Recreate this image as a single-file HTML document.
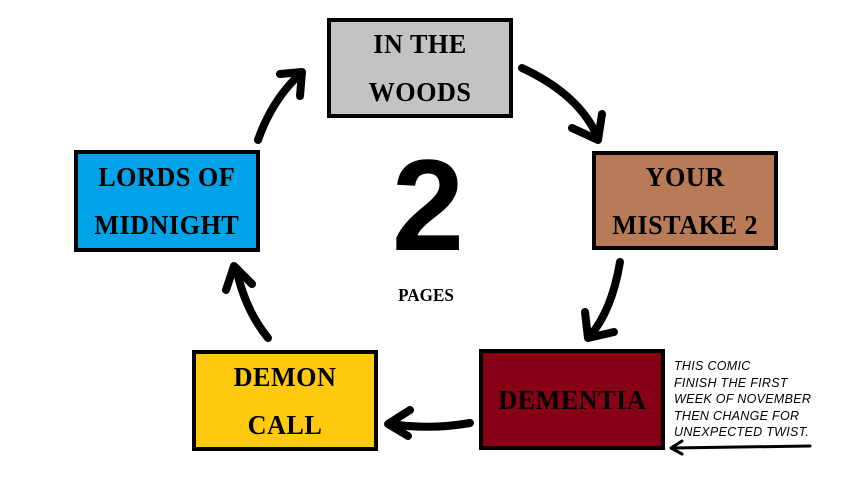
<!DOCTYPE html>
<html><head><style>
body{margin:0;width:856px;height:487px;background:#fff;position:relative;overflow:hidden;font-family:"Liberation Sans",sans-serif}
.b{position:absolute;border:4px solid #000;box-sizing:border-box;display:flex;align-items:center;justify-content:center;text-align:center;font-family:"Liberation Serif",serif;font-weight:900;font-size:27px;line-height:48px;letter-spacing:0.5px;color:#000}
.b span{display:inline-block;transform:scaleX(0.97)}
.note{position:absolute;left:674px;top:358px;font-style:italic;font-size:12.5px;line-height:16.5px;letter-spacing:0.3px;color:#000}
</style></head><body>
<div class="b" style="left:327px;top:18px;width:186px;height:100px;background:#c3c3c3"><span>IN THE<br>WOODS</span></div>
<div class="b" style="left:592px;top:151px;width:186px;height:99px;background:#b97a57"><span>YOUR<br>MISTAKE 2</span></div>
<div class="b" style="left:479px;top:349px;width:186px;height:101px;background:#880015"><span>DEMENTIA</span></div>
<div class="b" style="left:192px;top:350px;width:186px;height:101px;background:#ffc90e"><span>DEMON<br>CALL</span></div>
<div class="b" style="left:74px;top:150px;width:186px;height:102px;background:#00a2e8"><span>LORDS OF<br>MIDNIGHT</span></div>
<div style="position:absolute;left:378px;top:140px;width:100px;text-align:center;font-weight:900;font-size:130px;line-height:130px">2</div>
<div style="position:absolute;left:386px;top:285px;width:80px;text-align:center;font-family:'Liberation Serif',serif;font-weight:900;font-size:18px;transform:scaleX(0.95)">PAGES</div>
<div class="note">THIS COMIC<br>FINISH THE FIRST<br>WEEK OF NOVEMBER<br>THEN CHANGE FOR<br>UNEXPECTED TWIST.</div>
<svg width="856" height="487" style="position:absolute;left:0;top:0" fill="none" stroke="#000" stroke-linecap="round" stroke-linejoin="round">
<g stroke-width="8">
<path d="M522 68 Q580 95 598 138"/><path d="M572 128 L598 140 L602 114"/>
<path d="M620 262 Q612 310 590 336"/><path d="M585 312 L588 338 L614 332"/>
<path d="M470 423 Q430 430 390 424"/><path d="M410 410 L388 424 L408 436"/>
<path d="M268 338 Q245 310 236 268"/><path d="M226 290 L234 266 L252 284"/>
<path d="M258 140 Q272 100 300 74"/><path d="M280 74 L302 72 L300 96"/>
</g>
<g stroke-width="3"><path d="M810 446 L672 448"/><path d="M682 441 L671 448 L682 454"/></g>
</svg>
</body></html>
